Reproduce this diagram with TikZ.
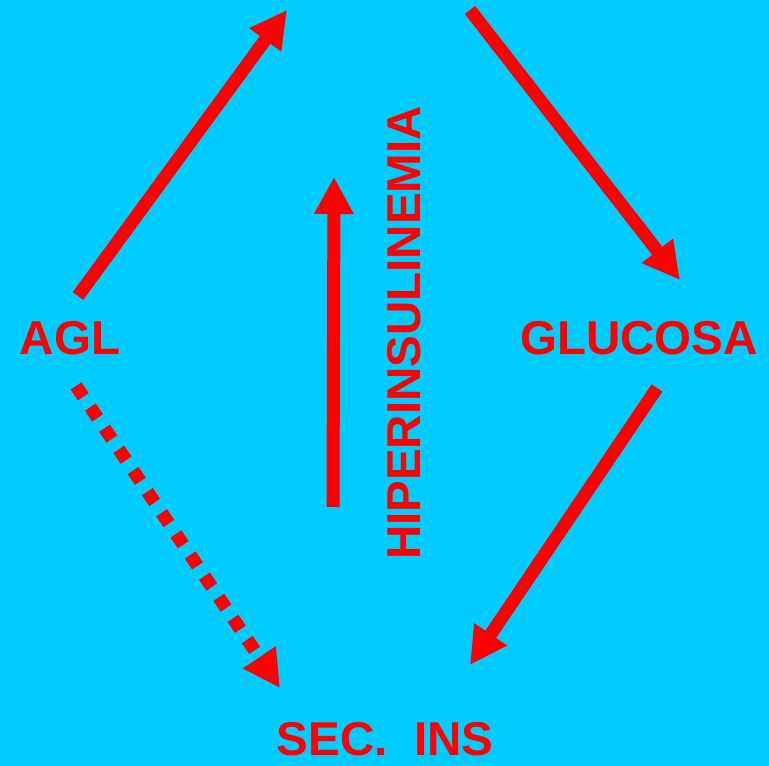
\documentclass[tikz,border=0pt]{standalone}
\usepackage{fontspec}
\setmainfont{Liberation Sans}
\usetikzlibrary{arrows.meta}
\definecolor{bgcyan}{HTML}{00CCFF}
\definecolor{fgred}{HTML}{FF0000}
\begin{document}
\begin{tikzpicture}[x=1pt,y=1pt,
  label/.style={text=fgred,font=\fontsize{47.5}{50}\selectfont\bfseries,inner sep=0pt},
  flow/.style={draw=fgred,line width=13pt,-{Triangle[length=37pt,width=37pt]}},
  flowdots/.style={flow,dash pattern=on 13pt off 12.5pt}]
  % background
  \fill[bgcyan] (0,0) rectangle (769,766);
  \useasboundingbox (0,0) rectangle (769,766);

  % labels
  \node[label,anchor=base] (agl) at (70,411) {AGL};
  \node[label,anchor=base] (glu) at (639,411) {GLUCOSA};
  \node[label,anchor=base] (sec) at (385,10) {SEC.\ \ INS};
  \node[label,anchor=base,rotate=90] (hiper) at (420,433) {HIPERINSULINEMIA};

  % arrow end points
  \coordinate (a1s) at (78,470);
  \coordinate (a1e) at (287,756);
  \coordinate (a2s) at (470,756);
  \coordinate (a2e) at (680,486);
  \coordinate (a3s) at (657,378);
  \coordinate (a3e) at (470,101);
  \coordinate (a4s) at (76,380);
  \coordinate (a4e) at (280,78);
  \coordinate (a5s) at (333,259);
  \coordinate (a5e) at (334,589);

  % connectors
  \draw[flow] (a1s) -- (a1e);
  \draw[flow] (a2s) -- (a2e);
  \draw[flow] (a3s) -- (a3e);
  \draw[flowdots] (a4s) -- (a4e);
  \draw[flow] (a5s) -- (a5e);
\end{tikzpicture}
\end{document}
